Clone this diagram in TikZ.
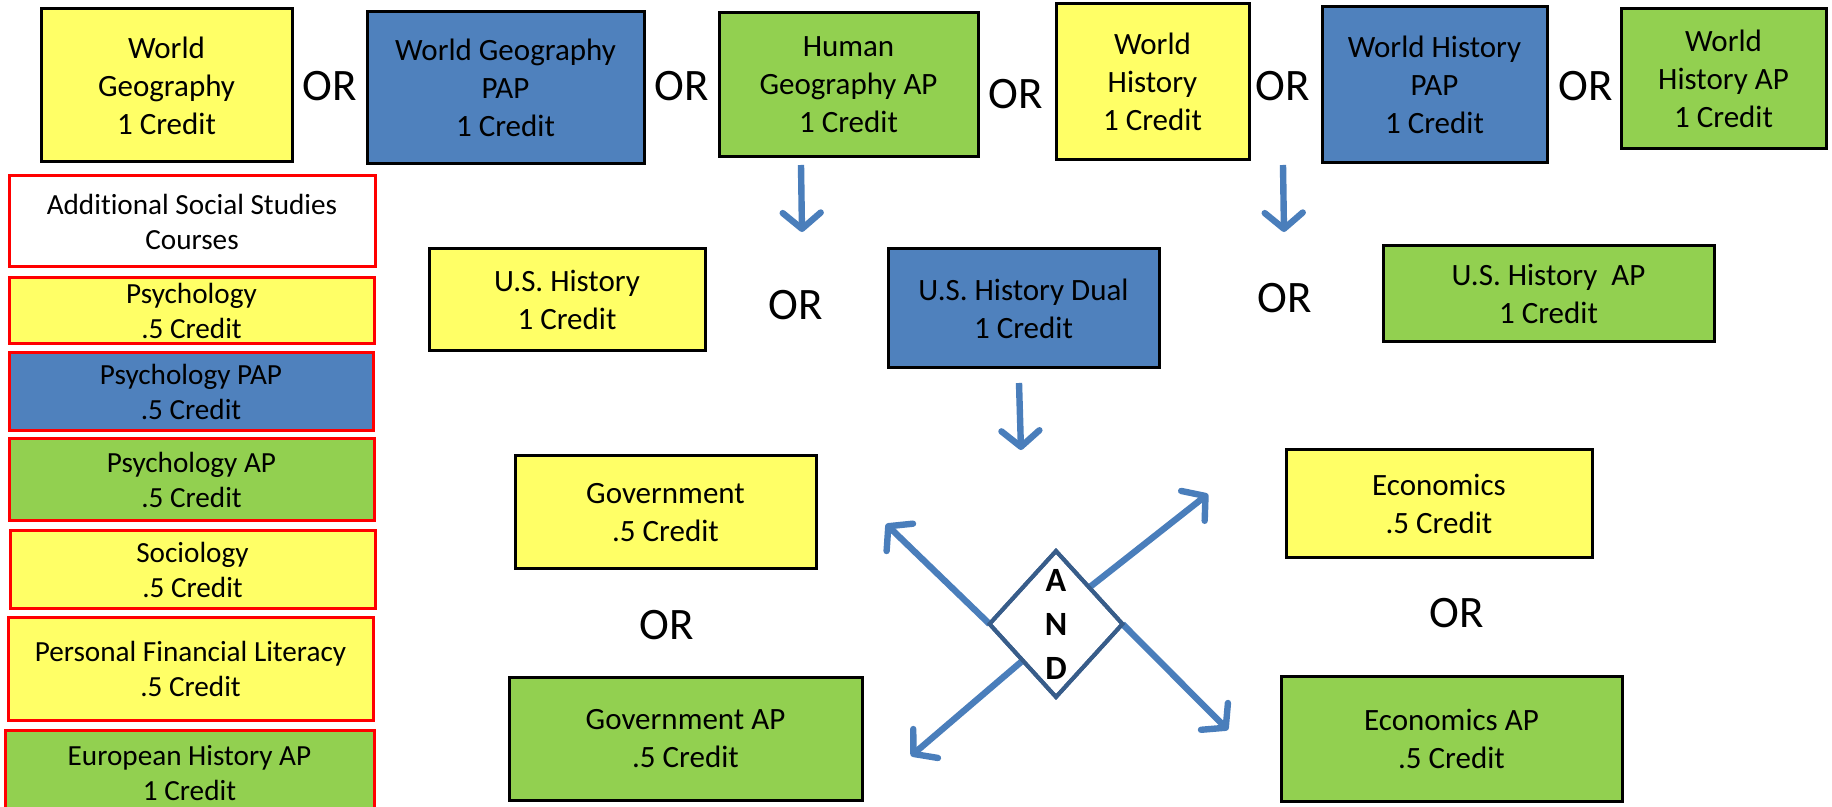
\documentclass[tikz,border=0pt]{standalone}
\usepackage{fontspec}
\setmainfont{Carlito}[Ligatures=NoCommon]
\usetikzlibrary{arrows.meta,shapes.geometric}
\definecolor{cyel}{HTML}{FFFF66}
\definecolor{cblu}{HTML}{4F81BD}
\definecolor{cgrn}{HTML}{92D050}
\definecolor{carr}{HTML}{4A7EBB}
\definecolor{cdia}{HTML}{385D8A}
\newcommand\crsbox[7]{%
  \node[#2, minimum width={(#5-#3)*0.5pt}, minimum height={(#6-#4)*0.5pt}] (#1) at ({(#3+#5)/2},{(#4+#6)/2}) {#7};}
\tikzset{
  mainbox/.style={draw=black, line width=1.5pt, inner sep=0pt, align=center, font=\fontsize{15.5}{19}\selectfont},
  ybox/.style={mainbox, fill=cyel},
  bbox/.style={mainbox, fill=cblu},
  gbox/.style={mainbox, fill=cgrn},
  sidebox/.style={draw=red, line width=1.5pt, inner sep=0pt, align=center, font=\fontsize{14.6}{17.5}\selectfont},
  sy/.style={sidebox, fill=cyel},
  sb/.style={sidebox, fill=cblu},
  sg/.style={sidebox, fill=cgrn},
  sw/.style={sidebox, fill=white},
  ortext/.style={font=\fontsize{22.5}{27}\selectfont, inner sep=0pt},
  flow/.style={draw=carr, line width=3.2pt, -{Straight Barb[length=8pt, width=19pt, line width=3.2pt, round]}},
}
\begin{document}
\begin{tikzpicture}[x=0.5pt, y=-0.5pt]
\clip (0,0) rectangle (1832,807);
\fill[white] (0,0) rectangle (1832,807);
% top row
\crsbox{wg}{ybox}{41}{9}{292}{162}{World\\Geography\\1 Credit}
\crsbox{wgp}{bbox}{367}{12}{644}{164}{World Geography\\PAP\\1 Credit}
\crsbox{hgap}{gbox}{719}{13}{978}{157}{Human\\Geography AP\\1 Credit}
\crsbox{wh}{ybox}{1056}{4}{1249}{160}{World\\History\\1 Credit}
\crsbox{whp}{bbox}{1322}{7}{1547}{163}{World History\\PAP\\1 Credit}
\crsbox{whap}{gbox}{1621}{9}{1826}{149}{World\\History AP\\1 Credit}
\node[ortext] (or1) at (330,86) {OR};
\node[ortext] (or2) at (682,86) {OR};
\node[ortext] (or3) at (1016,94) {OR};
\node[ortext] (or4) at (1283,86) {OR};
\node[ortext] (or5) at (1586,86) {OR};
% side column
\crsbox{add}{sw}{9}{176}{375}{267}{Additional Social Studies\\Courses}
\crsbox{psy}{sy}{9}{278}{374}{344}{Psychology\\.5 Credit}
\crsbox{psyp}{sb}{9}{353}{373}{431}{Psychology PAP\\.5 Credit}
\crsbox{psyap}{sg}{9}{439}{374}{521}{Psychology AP\\.5 Credit}
\crsbox{soc}{sy}{10}{531}{375}{608}{Sociology\\.5 Credit}
\crsbox{pfl}{sy}{8}{617}{373}{720}{Personal Financial Literacy\\.5 Credit}
\crsbox{euro}{sg}{5}{730}{374}{816}{European History AP\\1 Credit}
% US history row
\crsbox{ush}{ybox}{429}{249}{705}{351}{U.S. History\\1 Credit}
\crsbox{ushd}{bbox}{888}{249}{1159}{368}{U.S. History Dual\\1 Credit}
\crsbox{ushap}{gbox}{1383}{246}{1714}{342}{U.S. History~ AP\\1 Credit}
\node[ortext] (or6) at (796,305) {OR};
\node[ortext] (or7) at (1285,298) {OR};
% gov / eco
\crsbox{gov}{ybox}{515}{456}{816}{569}{Government\\.5 Credit}
\crsbox{govap}{gbox}{509}{677}{862}{800}{Government AP\\.5 Credit}
\crsbox{eco}{ybox}{1286}{450}{1592}{558}{Economics\\.5 Credit}
\crsbox{ecoap}{gbox}{1281}{676}{1622}{801}{Economics AP\\.5 Credit}
\node[ortext] (or8) at (667,625) {OR};
\node[ortext] (or9) at (1457,613) {OR};
% down arrows
\coordinate (d1s) at (801,165); \coordinate (d1e) at (802,232);
\coordinate (d2s) at (1283,165); \coordinate (d2e) at (1284,232);
\coordinate (d3s) at (1019,383); \coordinate (d3e) at (1021,450);
\draw[flow] (d1s) -- (d1e);
\draw[flow] (d2s) -- (d2e);
\draw[flow] (d3s) -- (d3e);
% AND diamond
\node[diamond, draw=cdia, fill=white, line width=2pt, minimum width=66.5pt, minimum height=73pt, inner sep=0pt, outer sep=0pt] (andd) at (1056,624) {};
\coordinate (t1) at (886,524);
\coordinate (t2) at (911,756);
\coordinate (t3) at (1208,494);
\coordinate (t4) at (1228,730);
\draw[flow] (andd.west) -- (t1);
\draw[flow] (andd.south west) -- (t2);
\draw[flow] (andd.north east) -- (t3);
\draw[flow] (andd.east) -- (t4);
\node[diamond, draw=cdia, line width=2pt, minimum width=66.5pt, minimum height=73pt, inner sep=0pt, outer sep=0pt] (anddb) at (1056,624) {};
\node[font=\bfseries\fontsize{17}{22}\selectfont, align=center, inner sep=0pt] (andt) at (andd.center) {A\\N\\D};
\end{tikzpicture}
\end{document}
